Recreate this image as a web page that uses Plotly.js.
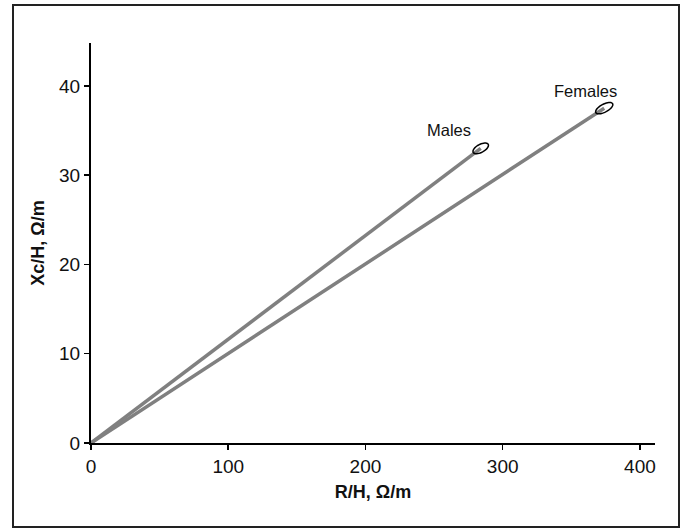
<!DOCTYPE html>
<html>
<head>
<meta charset="utf-8">
<script src="https://cdn.plot.ly/plotly-3.0.1.min.js"></script>
<style>
html,body{margin:0;padding:0;background:#fff;}
#wrap{position:relative;width:682px;height:530px;}
#chart{position:absolute;left:0;top:0;width:682px;height:530px;}
#frame{position:absolute;left:12px;top:4px;width:664px;height:520px;border:2.5px solid #222;pointer-events:none;}
</style>
</head>
<body>
<div id="wrap"><div id="chart"></div><div id="frame"></div></div>
<script>
// Data
const groups = ["Males", "Females"];
const endX = [284, 374];      // R/H, Ω/m
const endY = [33.0, 37.5];    // Xc/H, Ω/m
const labelX = [261, 360];
const labelY = [35.1, 39.4];
const xTicks = [0, 100, 200, 300, 400];
const yTicks = [0, 10, 20, 30, 40];

const lineColor = "#808080";
const font = "Liberation Sans, Arial, Helvetica, sans-serif";

const traces = groups.map((g, i) => ({
  type: "scatter",
  mode: "lines",
  name: g,
  x: [0, endX[i]],
  y: [0, endY[i]],
  line: {color: lineColor, width: 3.5},
  hoverinfo: "skip",
  showlegend: false
}));

// ellipse path in pixel offsets
function ellipsePath(a, b, deg) {
  const th = deg * Math.PI / 180;
  let p = "";
  const n = 40;
  for (let k = 0; k <= n; k++) {
    const t = 2 * Math.PI * k / n;
    const dx = a * Math.cos(t) * Math.cos(th) - b * Math.sin(t) * Math.sin(th);
    const dy = a * Math.cos(t) * Math.sin(th) + b * Math.sin(t) * Math.cos(th);
    p += (k === 0 ? "M" : "L") + dx.toFixed(2) + "," + dy.toFixed(2);
  }
  return p + "Z";
}

const shapes = groups.map((g, i) => ({
  type: "path",
  xref: "x", yref: "y",
  xsizemode: "pixel", ysizemode: "pixel",
  xanchor: endX[i], yanchor: endY[i],
  path: ellipsePath(i === 0 ? 8.5 : 9.5, 4, 28),
  line: {color: "#000", width: 1.5},
  fillcolor: "rgba(0,0,0,0)",
  layer: "above"
}));

const annotations = groups.map((g, i) => ({
  x: labelX[i], y: labelY[i], xref: "x", yref: "y",
  text: g, showarrow: false,
  font: {family: font, size: 16.5, color: "#111"}
}));

const layout = {
  width: 682, height: 530,
  margin: {l: 91, r: 27, t: 43, b: 87, pad: 0},
  paper_bgcolor: "#fff", plot_bgcolor: "#fff",
  showlegend: false,
  font: {family: font, color: "#111"},
  xaxis: {
    range: [0, 411], tickvals: xTicks, ticktext: xTicks.map(String),
    showgrid: false, zeroline: false, showline: true, linecolor: "#000", linewidth: 2,
    ticks: "outside", ticklen: 5, tickwidth: 1.5, tickcolor: "#000",
    tickfont: {family: font, size: 19, color: "#111"},
    title: {text: "<b>R/H, Ω/m</b>", font: {family: font, size: 18, color: "#111"}, standoff: 10},
    fixedrange: true
  },
  yaxis: {
    range: [0, 44.8], tickvals: yTicks, ticktext: yTicks.map(String),
    showgrid: false, zeroline: false, showline: true, linecolor: "#000", linewidth: 2,
    ticks: "outside", ticklen: 5, tickwidth: 1.5, tickcolor: "#000",
    tickfont: {family: font, size: 19, color: "#111"},
    title: {text: "<b>Xc/H, Ω/m</b>", font: {family: font, size: 18, color: "#111"}, standoff: 10},
    fixedrange: true
  },
  shapes: shapes,
  annotations: annotations
};

Plotly.newPlot("chart", traces, layout, {staticPlot: true, displayModeBar: false});
</script>
</body>
</html>
